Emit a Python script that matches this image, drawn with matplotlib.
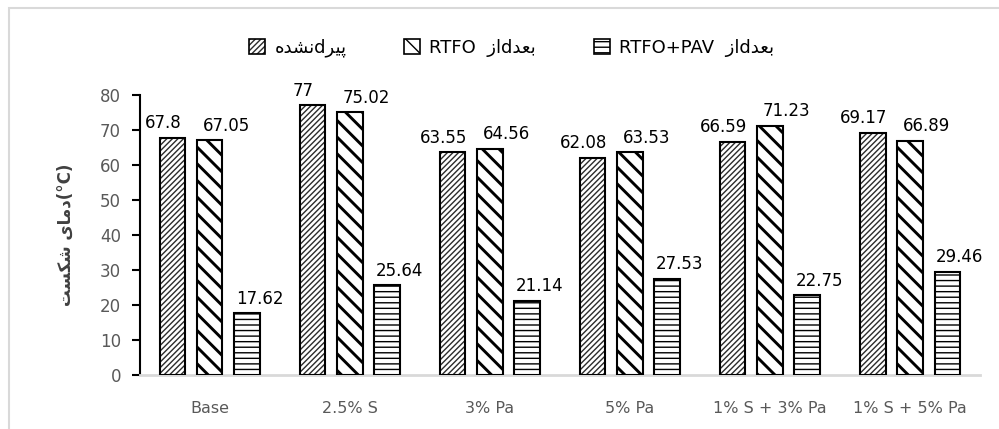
import matplotlib
matplotlib.use("Agg")
import matplotlib.pyplot as plt
from matplotlib.patches import Rectangle, Patch
import numpy as np

# ------------------------------------------
# Data
# ------------------------------------------
categories = ["Base", "2.5% S", "3% Pa", "5% Pa", "1% S + 3% Pa", "1% S + 5% Pa"]
unaged = [67.8, 77, 63.55, 62.08, 66.59, 69.17]
after_rtfo = [67.05, 75.02, 64.56, 63.53, 71.23, 66.89]
after_pav = [17.62, 25.64, 21.14, 27.53, 22.75, 29.46]
yticks = [0, 10, 20, 30, 40, 50, 60, 70, 80]

# ------------------------------------------
# Tiny Persian shaper (matplotlib has no bidi / joining)
# forms: isolated, final, initial, medial
# ------------------------------------------
FORMS = {
    "ا": ("\uFE8D", "\uFE8E", None, None),
    "ب": ("\uFE8F", "\uFE90", "\uFE91", "\uFE92"),
    "پ": ("\uFB56", "\uFB57", "\uFB58", "\uFB59"),
    "ت": ("\uFE95", "\uFE96", "\uFE97", "\uFE98"),
    "د": ("\uFEA9", "\uFEAA", None, None),
    "ر": ("\uFEAD", "\uFEAE", None, None),
    "ز": ("\uFEAF", "\uFEB0", None, None),
    "س": ("\uFEB1", "\uFEB2", "\uFEB3", "\uFEB4"),
    "ش": ("\uFEB5", "\uFEB6", "\uFEB7", "\uFEB8"),
    "ع": ("\uFEC9", "\uFECA", "\uFECB", "\uFECC"),
    "ک": ("\uFB8E", "\uFB8F", "\uFB90", "\uFB91"),
    "م": ("\uFEE1", "\uFEE2", "\uFEE3", "\uFEE4"),
    "ن": ("\uFEE5", "\uFEE6", "\uFEE7", "\uFEE8"),
    "ه": ("\uFEE9", "\uFEEA", "\uFEEB", "\uFEEC"),
    "ی": ("\uFBFC", "\uFBFD", "\uFBFE", "\uFBFF"),
}


def shape(word):
    # returns visual (left-to-right) string for one Persian word
    out = []
    n = len(word)
    for i, ch in enumerate(word):
        iso, fin, ini, med = FORMS[ch]
        prev_joins = i > 0 and FORMS[word[i - 1]][2] is not None
        can_join_next = ini is not None and i < n - 1
        if prev_joins and can_join_next:
            g = med
        elif prev_joins:
            g = fin
        elif can_join_next:
            g = ini
        else:
            g = iso
        out.append(g)
    return "".join(reversed(out))


az = shape("از") + "d" + shape("بعد")
labels = [
    shape("نشده") + "d" + shape("پیر"),
    "RTFO  " + az,
    "RTFO+PAV  " + az,
]
ylabel = shape("شکست") + " " + shape("دمای") + "(°C)"

# ------------------------------------------
# Figure
# ------------------------------------------
plt.rcParams["font.family"] = ["DejaVu Sans"]
fig = plt.figure(figsize=(9.99, 4.29), dpi=100)
ax = fig.add_axes([0.140, 0.126, 0.841, 0.653])

x = np.arange(len(categories))
w = 0.18
step = 0.265

series = [
    (unaged, "//////", "#2b2b2b", 1.0),
    (after_rtfo, "\\\\", "black", 2.1),
    (after_pav, "---", "black", 1.0),
]

handles = []
for k, (vals, hatch, hcol, hlw) in enumerate(series):
    with plt.rc_context({"hatch.linewidth": hlw, "hatch.color": hcol}):
        bars = ax.bar(x + (k - 1) * step, vals, width=w, facecolor="white",
                      edgecolor="black", linewidth=1.5, hatch=hatch, zorder=3)
        for b in bars:
            if hasattr(b, "set_hatch_linewidth"):
                b.set_hatch_linewidth(hlw)
        h = Patch(facecolor="white", edgecolor="black", hatch=hatch, linewidth=1.2)
        if hasattr(h, "set_hatch_linewidth"):
            h.set_hatch_linewidth(hlw)
    for b in bars:
        b._hatch_color = matplotlib.colors.to_rgba(hcol)
    h._hatch_color = matplotlib.colors.to_rgba(hcol)
    handles.append(h)

# value labels (nudged like Excel does)
nudge = [-7, 12, 9]
for k, vals in enumerate([unaged, after_rtfo, after_pav]):
    for i, v in enumerate(vals):
        ax.annotate(f"{v:g}", (x[i] + (k - 1) * step, v), xytext=(nudge[k], 4),
                    textcoords="offset points", ha="center", va="bottom",
                    fontsize=12, color="black")

ax.set_xlim(-0.5, len(categories) - 0.5)
ax.set_ylim(0, 80)
ax.set_yticks(yticks)
ax.set_xticks(x)
ax.set_xticklabels(categories)

for s in ["top", "right"]:
    ax.spines[s].set_visible(False)
ax.spines["left"].set_color("black")
ax.spines["left"].set_linewidth(1.5)
ax.spines["bottom"].set_color("#d9d9d9")
ax.spines["bottom"].set_linewidth(2)

ax.tick_params(axis="y", direction="out", length=5.5, width=1.5, color="black",
               labelsize=12, labelcolor="#595959", pad=8)
ax.tick_params(axis="x", length=0, labelsize=11.5, labelcolor="#595959", pad=19)

ax.set_ylabel(ylabel, fontsize=12, color="#404040", fontweight="bold", labelpad=18)

fig.legend(handles, labels, loc="center", bbox_to_anchor=(0.512, 0.888), ncol=3,
           frameon=False, fontsize=13, handlelength=0.9, handleheight=0.9,
           handletextpad=0.5, columnspacing=3.2)

# chart border
fig.patches.append(Rectangle((9 / 999, -0.1), 1.2, 1 - 8 / 429 + 0.1,
                             transform=fig.transFigure, fill=False,
                             edgecolor="#d9d9d9", linewidth=1.5))

fig.savefig("out.png", dpi=100)
